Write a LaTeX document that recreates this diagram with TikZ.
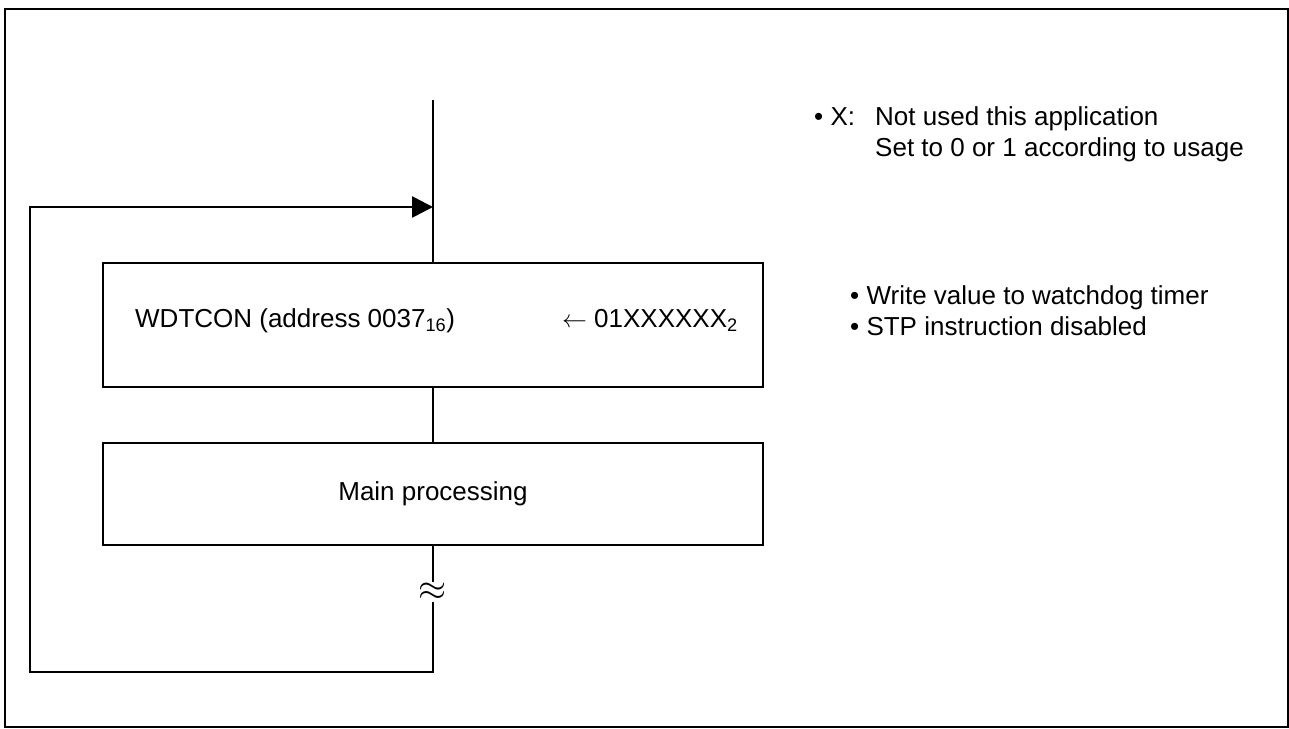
\documentclass[tikz,border=0pt]{standalone}
\usepackage{fontspec}
\setmainfont{Liberation Sans}
\usetikzlibrary{arrows.meta}
\tikzset{
  procbox/.style={draw, line width=2.7pt, fill=white, minimum width=660pt, inner sep=0pt},
  conn/.style={line width=2.7pt},
  note/.style={anchor=base west, inner sep=0pt}
}
\begin{document}
\begin{tikzpicture}[x=1pt,y=-1pt, font=\fontsize{26}{31}\selectfont]
\useasboundingbox (0,0) rectangle (1289,728);
\draw[line width=2.7pt] (5,9) rectangle (1288,727);
\node[procbox, minimum height=124pt] (b1) at (433,325) {};
\node[anchor=base west, inner sep=0pt] (t1) at (135,327) {WDTCON (address 0037\textsubscript{16})};
\node[anchor=base east, inner sep=0pt] (t2) at (738,327) {$\leftarrow$ 01XXXXXX\textsubscript{2}};
\node[procbox, minimum height=102pt] (b2) at (433,494) {Main processing};
\coordinate (top) at (433,100);
\node[inner sep=1pt] (apx) at (433,592) {\scalebox{1.45}{$\approx$}};
\coordinate (c1) at (433,672);
\coordinate (c2) at (30,672);
\coordinate (c3) at (30,207);
\coordinate (c4) at (433,207);
\draw[conn] (top) -- (b1.north);
\draw[conn] (b1.south) -- (b2.north);
\draw[conn] (b2.south) -- (apx.north);
\draw[conn, -{Triangle[length=21pt,width=21pt]}] (apx.south) -- (c1) -- (c2) -- (c3) -- (c4);
\node[note] (xb) at (814,125) {• X:};
\node[note] (xn1) at (875,125) {Not used this application};
\node[note] (xn2) at (875,156) {Set to 0 or 1 according to usage};
\node[note] (wv1) at (850,304) {• Write value to watchdog timer};
\node[note] (wv2) at (850,335) {• STP instruction disabled};
\end{tikzpicture}
\end{document}
